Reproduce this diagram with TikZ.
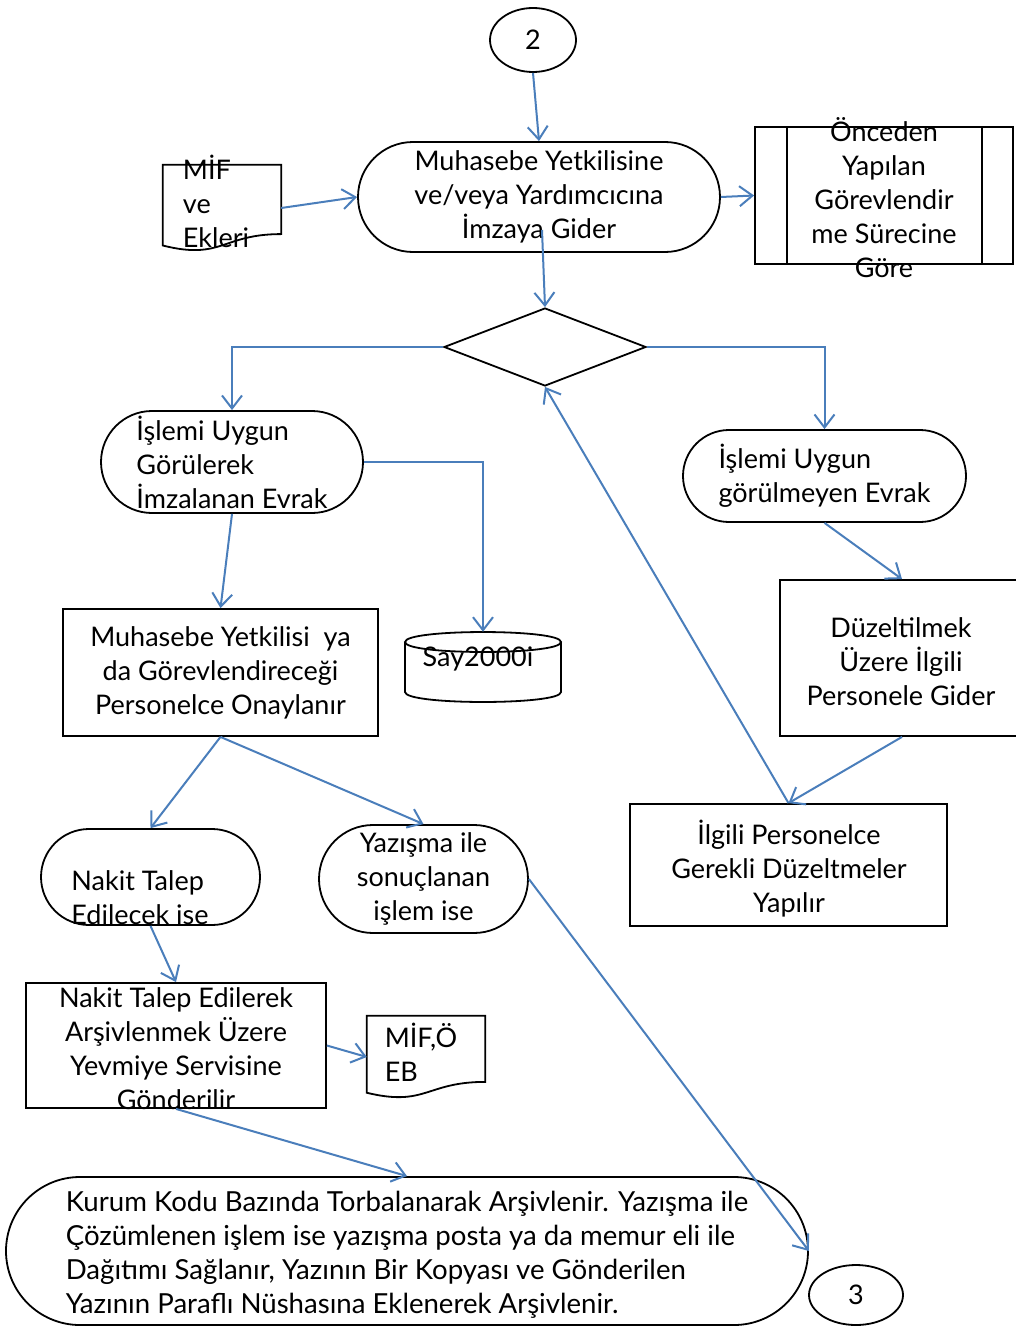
\documentclass[tikz,border=0pt]{standalone}
\usepackage{fontspec}
\setmainfont{Lato}
\usetikzlibrary{shapes.geometric,arrows.meta,calc}
\definecolor{lineblue}{HTML}{4A7EBB}
\newcommand\mydocshape[1]{\draw[shp] (#1.north west) -- (#1.north east) -- ($(#1.north east)!0.802!(#1.south east)$) .. controls ($(#1.north)!0.802!(#1.south)$) and ($(#1.north)!1.107!(#1.south)$) .. ($(#1.north west)!0.934!(#1.south west)$) -- cycle;}
\begin{document}
\begin{tikzpicture}[x=1pt,y=-1pt,
  every node/.style={font=\fontsize{27}{34}\selectfont, inner sep=0pt},
  shp/.style={draw=black, line width=1.8pt},
  term/.style={shp, rectangle, rounded corners=#1},
  box/.style={shp, rectangle},
  arr/.style={draw=lineblue, line width=2pt, -{Straight Barb[length=13pt,width=20pt]}},
]
\useasboundingbox (0,0) rectangle (1016,1327);

% nodes
\node[ellipse, shp, minimum width=86, minimum height=64] (c2) at (533,40) {2};
\node[term=55pt, minimum width=362, minimum height=110, align=center] (t1) at (539,197) {Muhasebe Yetkilisine\\ve/veya Yardımcıcına\\İmzaya Gider};
\node[minimum width=118, minimum height=86] (d1) at (222,208) {};
\mydocshape{d1}
\node[align=left] (d1t) at (216,201) {MİF\\ve\\Ekleri};

\node[box, minimum width=258, minimum height=137] (p) at (884,195.5) {};
\draw[shp] ($(p.north west)+(33,0)$) -- ($(p.south west)+(33,0)$);
\draw[shp] ($(p.north east)+(-32,0)$) -- ($(p.south east)+(-32,0)$);
\node[align=center] (pt) at (884,198) {Önceden\\Yapılan\\Görevlendir\\me Sürecine\\Göre};

\node[diamond, shp, minimum width=202, minimum height=78, aspect=2.6] (dia) at (545,347) {};

\node[term=51pt, minimum width=262, minimum height=102, align=left] (l1) at (232,462) {İşlemi Uygun\\Görülerek\\İmzalanan Evrak};
\node[term=46pt, minimum width=283, minimum height=92, align=left] (r1) at (824.5,476) {İşlemi Uygun\\görülmeyen Evrak};

\node[minimum width=156, minimum height=70] (cyl) at (483,667) {};
\draw[shp] (405,642) .. controls (405,628.7) and (561,628.7) .. (561,642) .. controls (561,655.3) and (405,655.3) .. (405,642) -- cycle;
\draw[shp] (405,642) -- (405,692) .. controls (405,705.3) and (561,705.3) .. (561,692) -- (561,642);
\node (cylt) at (478,659) {Say2000i};

\node[box, minimum width=315, minimum height=127, align=center] (b1) at (220.5,672.5) {Muhasebe Yetkilisi~ ya\\da Görevlendireceği\\Personelce Onaylanır};

\node[term=48pt, minimum width=219, minimum height=96] (n1) at (150.5,877) {};
\node[align=left] (n1t) at (140,897.5) {Nakit Talep\\Edilecek ise};

\node[term=54pt, minimum width=209, minimum height=108, align=center] (y1) at (423.5,879) {Yazışma ile\\sonuçlanan\\işlem ise};

\node[box, minimum width=300, minimum height=125] (b2) at (176,1045.5) {};
\node[align=center] (b2t) at (176,1049) {Nakit Talep Edilerek\\Arşivlenmek Üzere\\Yevmiye Servisine\\Gönderilir};

\node[minimum width=118, minimum height=82] (d2) at (426,1057) {};
\mydocshape{d2}
\node[align=left] (d2t) at (421,1052) {MİF,Ö\\EB};

\node[term=74pt, minimum width=802, minimum height=148] (big) at (407,1251) {};
\node[align=left, font=\fontsize{27.6}{34}\selectfont] (bigt) at (407,1255) {Kurum Kodu Bazında Torbalanarak Arşivlenir. Yazışma ile\\Çözümlenen işlem ise yazışma posta ya da memur eli ile\\Dağıtımı Sağlanır, Yazının Bir Kopyası ve Gönderilen\\Yazının Paraflı Nüshasına Eklenerek Arşivlenir.};

\node[ellipse, shp, minimum width=94, minimum height=60] (c3) at (856,1295) {3};

\node[box, minimum width=244, minimum height=156] (r2) at (902,658) {};
\node[align=center] (r2t) at (901,662) {Düzeltilmek\\Üzere İlgili\\Personele Gider};
\node[box, minimum width=317, minimum height=122] (r3) at (788.5,865) {};
\node[align=center] (r3t) at (789,869) {İlgili Personelce\\Gerekli Düzeltmeler\\Yapılır};

% connectors
\coordinate (t1in) at (542,230);
\draw[arr] (c2.south) -- (t1.north);
\draw[arr] (d1.east) -- (t1.west);
\draw[arr] (t1.east) -- (p.west);
\draw[arr] (t1in) -- (dia.north);
\draw[arr] (dia.west) -| (l1.north);
\draw[arr] (dia.east) -| (r1.north);
\draw[arr] (l1.east) -| (cyl.north);
\draw[arr] (l1.south) -- (b1.north);
\draw[arr] (b1.south) -- (n1.north);
\draw[arr] (b1.south) -- (y1.north);
\draw[arr] (n1.south) -- (b2.north);
\draw[arr] (b2.east) -- (d2.west);
\draw[arr] (b2.south) -- (big.north);
\draw[arr] (y1.east) -- (big.east);
\draw[arr] (r1.south) -- (r2.north);
\draw[arr] (r2.south) -- (r3.north);
\draw[arr] (r3.north) -- (dia.south);
\end{tikzpicture}
\end{document}
